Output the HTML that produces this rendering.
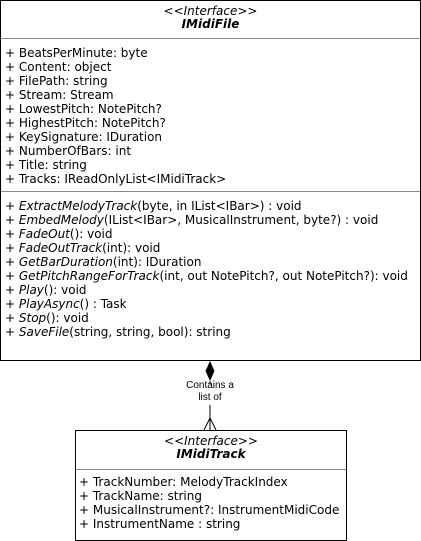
<!DOCTYPE html>
<html><head><style>
body{margin:0;width:421px;height:541px;background:#fff;position:relative;font-family:"DejaVu Sans",Verdana,sans-serif;font-size:12px;color:#000}
.t{position:absolute;white-space:pre;line-height:14px}
.box{position:absolute;border:1px solid #000;box-sizing:border-box}
.hl{position:absolute;height:0;border-top:1px solid #888}
i{font-style:italic}
.c{position:absolute;text-align:center;white-space:pre}
</style></head><body>
<div class="box" style="left:0;top:0;width:421px;height:361px"></div>
<div class="hl" style="left:1px;top:38px;width:419px"></div>
<div class="hl" style="left:1px;top:191px;width:419px"></div>
<div class="c" style="left:0;width:421px;top:4px;line-height:14px;font-style:italic">&lt;&lt;Interface&gt;&gt;</div>
<div class="c" style="left:0;width:421px;top:17px;line-height:14px;font-style:italic;font-weight:bold">IMidiFile</div>
<div class="t" style="left:5px;top:46px">+ BeatsPerMinute: byte
+ Content: object
+ FilePath: string
+ Stream: Stream
+ LowestPitch: NotePitch?
+ HighestPitch: NotePitch?
+ KeySignature: IDuration
+ NumberOfBars: int
+ Title: string
+ Tracks: IReadOnlyList&lt;IMidiTrack&gt;</div>
<div class="t" style="left:5px;top:199px">+ <i>ExtractMelodyTrack</i>(byte, in IList&lt;IBar&gt;) : void
+ <i>EmbedMelody</i>(IList&lt;IBar&gt;, MusicalInstrument, byte?) : void
+ <i>FadeOut</i>(): void
+ <i>FadeOutTrack</i>(int): void
+ <i>GetBarDuration</i>(int): IDuration
+ <i>GetPitchRangeForTrack</i>(int, out NotePitch?, out NotePitch?): void
+ <i>Play</i>(): void
+ <i>PlayAsync</i>() : Task
+ <i>Stop</i>(): void
+ <i>SaveFile</i>(string, string, bool): string</div>
<svg style="position:absolute;left:0;top:0" width="421" height="541">
<polygon points="210,361 214.5,371 210,381 205.5,371" fill="#000"/>
<line x1="210" y1="381" x2="210" y2="384" stroke="#000"/>
<line x1="210" y1="405" x2="210" y2="430" stroke="#000"/>
<polyline points="204,430 210,418 216,430" fill="none" stroke="#000"/>
</svg>
<div class="c" style="left:160px;width:100px;top:380px;font-family:'Liberation Sans',Arial,sans-serif;font-size:10px;line-height:12px">Contains a
list of</div>
<div class="box" style="left:75px;top:430px;width:272px;height:111px"></div>
<div class="hl" style="left:76px;top:469px;width:270px"></div>
<div class="c" style="left:75px;width:272px;top:434px;line-height:14px;font-style:italic">&lt;&lt;Interface&gt;&gt;</div>
<div class="c" style="left:75px;width:272px;top:447px;line-height:14px;font-style:italic;font-weight:bold">IMidiTrack</div>
<div class="t" style="left:79px;top:475px">+ TrackNumber: MelodyTrackIndex
+ TrackName: string
+ MusicalInstrument?: InstrumentMidiCode
+ InstrumentName : string</div>
</body></html>
